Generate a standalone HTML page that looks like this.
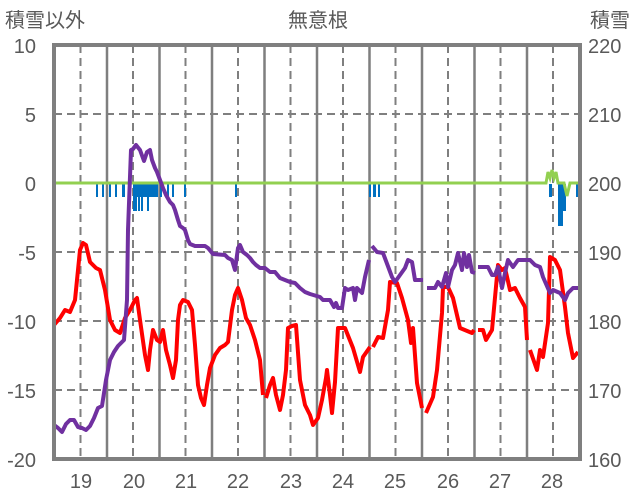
<!DOCTYPE html>
<html><head><meta charset="utf-8"><style>
body{margin:0;background:#fff;}
svg{display:block;font-family:"Liberation Sans","Noto Sans CJK JP",sans-serif;}
</style></head><body>
<svg width="636" height="501" viewBox="0 0 636 501">
<rect width="636" height="501" fill="#fff"/>
<g stroke="#7f7f7f" stroke-width="2" stroke-dasharray="8,5">
<line x1="54" y1="114" x2="580" y2="114"/>
<line x1="54" y1="252" x2="580" y2="252"/>
<line x1="54" y1="321" x2="580" y2="321"/>
<line x1="54" y1="390" x2="580" y2="390"/>
<line x1="80.5" y1="45" x2="80.5" y2="459"/><line x1="133" y1="45" x2="133" y2="459"/>
<line x1="185.5" y1="45" x2="185.5" y2="459"/><line x1="238" y1="45" x2="238" y2="459"/>
<line x1="290.5" y1="45" x2="290.5" y2="459"/><line x1="343" y1="45" x2="343" y2="459"/>
<line x1="395.5" y1="45" x2="395.5" y2="459"/><line x1="448" y1="45" x2="448" y2="459"/>
<line x1="500.5" y1="45" x2="500.5" y2="459"/><line x1="553" y1="45" x2="553" y2="459"/>
</g>
<g stroke="#7f7f7f" stroke-width="2.5">
<line x1="107" y1="45" x2="107" y2="459"/><line x1="159.5" y1="45" x2="159.5" y2="459"/>
<line x1="212" y1="45" x2="212" y2="459"/><line x1="264.5" y1="45" x2="264.5" y2="459"/>
<line x1="317" y1="45" x2="317" y2="459"/><line x1="369.5" y1="45" x2="369.5" y2="459"/>
<line x1="422" y1="45" x2="422" y2="459"/><line x1="474.5" y1="45" x2="474.5" y2="459"/>
<line x1="527" y1="45" x2="527" y2="459"/>
</g>
<g fill="#0070c0">
<rect x="96" y="184" width="2" height="13"/><rect x="102" y="184" width="2" height="13"/>
<rect x="109" y="184" width="2" height="13"/><rect x="115" y="184" width="2" height="13"/>
<rect x="122" y="184" width="3" height="13"/><rect x="128" y="184" width="2" height="13"/>
<rect x="133" y="184" width="25" height="13"/>
<rect x="133" y="184" width="4" height="27"/><rect x="138" y="184" width="2" height="27"/>
<rect x="141" y="184" width="2" height="27"/><rect x="147" y="184" width="2" height="27"/>
<rect x="160" y="184" width="2" height="13"/><rect x="167" y="184" width="2" height="13"/>
<rect x="172" y="184" width="2" height="13"/><rect x="184" y="184" width="2" height="13"/>
<rect x="235" y="184" width="2" height="13"/>
<rect x="369" y="184" width="2" height="13"/><rect x="373" y="184" width="3" height="13"/><rect x="378" y="184" width="2" height="13"/>
<rect x="549" y="184" width="3" height="13"/><rect x="558" y="184" width="5" height="42"/>
<rect x="563" y="184" width="3" height="27"/><rect x="576" y="184" width="2" height="13"/>
</g>
<polyline fill="none" stroke="#92d050" stroke-width="3" points="54,183 546,183 548,172 550,178 552,170 554,178 556,172 558,183 564,183 567,196 570,183 580,183"/>
<g fill="none" stroke="#ff0000" stroke-width="4" stroke-linejoin="round">
<polyline points="54,325 60,318 65,310 70,312 75,300 78,270 80,250 83,243 86,245 90,262 96,268 100,270 105,290 110,320 115,330 120,333 125,318 130,310 135,300 137,298 140,320 145,355 148,370 150,350 153,330 157,340 160,342 163,330 166,350 170,365 173,378 176,360 178,320 180,305 183,300 188,302 192,310 195,345 198,385 201,398 204,405 207,385 210,368 215,355 220,348 225,345 228,342 232,310 235,295 238,288 242,300 246,318 250,325 255,340 260,360 263,395"/>
<polyline points="266,398 270,385 273,378 276,395 280,410 283,395 286,370 288,328 292,326 296,325 300,380 305,405 310,415 313,425 318,418 322,400 326,378 327,370 330,395 332,413 335,382 338,328 345,328 353,348 360,372 363,357 370,347"/>
<polyline points="373,347 378,337 383,338 388,310 390,282 397,283 402,298 408,320 411,343 413,328 417,383 422,408"/>
<polyline points="426,413 433,397 437,370 442,313 443,287 448,287 453,298 460,328 472,333 474,330"/>
<polyline points="478,330 483,330 486,340 492,330 498,265 502,270 505,268 510,290 515,288 520,298 525,307 527,340"/>
<polyline points="530,350 537,370 540,350 543,357 548,323 550,257 555,260 560,270 565,307 568,333 573,358 578,352"/>
</g>
<g fill="none" stroke="#7030a0" stroke-width="4" stroke-linejoin="round">
<polyline points="54,425 58,428 62,432 66,424 70,420 74,420 78,427 82,428 86,430 90,426 94,418 98,408 102,406 106,380 110,360 114,352 118,346 122,342 124,340 127,300 128,230 131,150 133,149 136,145 140,150 144,161 147,152 150,150 152,160 155,168 157,172 160,180 163,188 166,195 170,202 173,205 175,210 178,220 180,226 183,228 185,230 188,240 190,244 195,246 205,246 208,248 213,254 225,255 228,258 232,260 235,270 238,248 240,245 243,252 247,255 250,258 253,262 256,265 260,268 265,268 270,272 275,272 280,278 290,282 295,283 300,288 305,292 310,294 320,297 323,300 330,300 334,307 336,303 338,308 342,308 345,288 348,290 353,288 355,300 357,288 362,293 365,277 369,260"/>
<polyline points="372,246 377,252 383,253 392,277 395,282 400,275 405,268 408,260 412,262 415,280 423,280"/>
<polyline points="427,288 435,288 438,282 442,287 446,273 448,287 452,270 455,265 458,253 462,270 464,253 467,267 469,255 472,272 475,273"/>
<polyline points="478,267 488,267 492,275 495,275 498,267 502,288 505,273 508,260 513,267 518,260 530,260 535,265 540,267 543,277 550,293 553,290 560,293 565,300 568,293 573,288 578,288"/>
</g>
<rect x="54" y="45" width="526" height="414" fill="none" stroke="#7f7f7f" stroke-width="4"/>
<g fill="#595959" font-size="20">
<text x="5" y="27">積雪以外</text>
<text x="318" y="27" text-anchor="middle">無意根</text>
<text x="590" y="27">積雪</text>
<g text-anchor="end">
<text x="36" y="53">10</text><text x="36" y="122">5</text><text x="36" y="191">0</text>
<text x="36" y="260">-5</text><text x="36" y="329">-10</text><text x="36" y="398">-15</text><text x="36" y="467">-20</text>
</g>
<g>
<text x="588" y="53">220</text><text x="588" y="122">210</text><text x="588" y="191">200</text>
<text x="588" y="260">190</text><text x="588" y="329">180</text><text x="588" y="398">170</text><text x="588" y="467">160</text>
</g>
<g text-anchor="middle">
<text x="81" y="488">19</text><text x="134" y="488">20</text><text x="186" y="488">21</text><text x="238" y="488">22</text>
<text x="291" y="488">23</text><text x="343" y="488">24</text><text x="395" y="488">25</text><text x="448" y="488">26</text>
<text x="500" y="488">27</text><text x="552" y="488">28</text>
</g>
</g>
</svg>
</body></html>
